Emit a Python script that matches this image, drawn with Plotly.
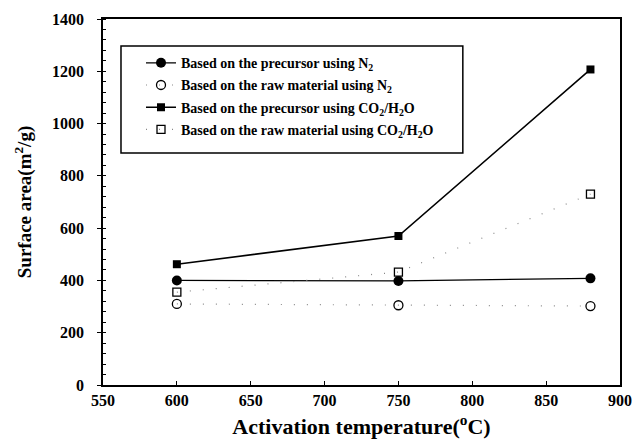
import plotly.graph_objects as go

temps = [600, 750, 880]
prec_n2 = [400, 398, 408]
raw_n2 = [310, 305, 302]
prec_co2 = [462, 570, 1207]
raw_co2 = [355, 432, 730]

names = [
    "Based on the precursor using N<sub>2</sub>",
    "Based on the raw material using N<sub>2</sub>",
    "Based on the precursor using CO<sub>2</sub>/H<sub>2</sub>O",
    "Based on the raw material using CO<sub>2</sub>/H<sub>2</sub>O",
]

FONT = "Liberation Serif"
fig = go.Figure()
fig.add_trace(go.Scatter(x=temps, y=prec_n2, name=names[0], legendgroup="a",
                         mode="lines+markers", line=dict(color="black", width=1.3),
                         marker=dict(symbol="circle", size=10, color="black")))
fig.add_trace(go.Scatter(x=temps, y=raw_n2, name=names[1], legendgroup="b",
                         mode="lines+markers", line=dict(color="#888888", width=1.2, dash="1px,12px"),
                         marker=dict(symbol="circle-open", size=9, color="black", line=dict(width=1.3))))
fig.add_trace(go.Scatter(x=temps, y=prec_co2, name=names[2], legendgroup="c",
                         mode="lines+markers", line=dict(color="black", width=1.6),
                         marker=dict(symbol="square", size=8, color="black")))
fig.add_trace(go.Scatter(x=temps, y=raw_co2, name=names[3], legendgroup="d",
                         mode="lines+markers", line=dict(color="#888888", width=1.2, dash="1px,12px"),
                         marker=dict(symbol="square-open", size=8, color="black", line=dict(width=1.3))))

axis_common = dict(showline=True, linecolor="black", linewidth=1.5, mirror=True,
                   showgrid=False, zeroline=False, automargin=False,
                   tickfont=dict(family=FONT, size=16, color="black", weight="bold"))

fig.update_xaxes(range=[550, 900], tickvals=[550, 600, 650, 700, 750, 800, 850, 900],
                 ticks="inside", ticklen=4, tickcolor="black",
                 title=dict(text="Activation temperature(<sup>o</sup>C)",
                            font=dict(family=FONT, size=22, color="black", weight="bold")),
                 **axis_common)
fig.update_yaxes(range=[0, 1400], tickvals=list(range(0, 1401, 200)),
                 ticks="outside", ticklen=4, tickcolor="black", ticklabelstandoff=10,
                 minor=dict(dtick=40, ticks="inside", ticklen=3, tickcolor="black"),
                 title=dict(text="Surface area(m<sup>2</sup>/g)",
                            font=dict(family=FONT, size=19, color="black", weight="bold")),
                 **axis_common)

# legend frame
fig.add_shape(type="rect", xref="paper", yref="paper",
              x0=0.0348, x1=0.696, y0=0.634, y1=0.926,
              line=dict(color="black", width=1.5), fillcolor="white", layer="below")

fig.update_layout(
    width=636, height=439,
    margin=dict(l=103, r=16, t=19, b=54),
    plot_bgcolor="white", paper_bgcolor="white",
    legend=dict(x=0.0735, y=0.923, xanchor="left", yanchor="top",
                borderwidth=0, bgcolor="rgba(0,0,0,0)",
                tracegroupgap=1,
                font=dict(family=FONT, size=14, color="black", weight="bold")),
)
fig.write_html("out.html")
